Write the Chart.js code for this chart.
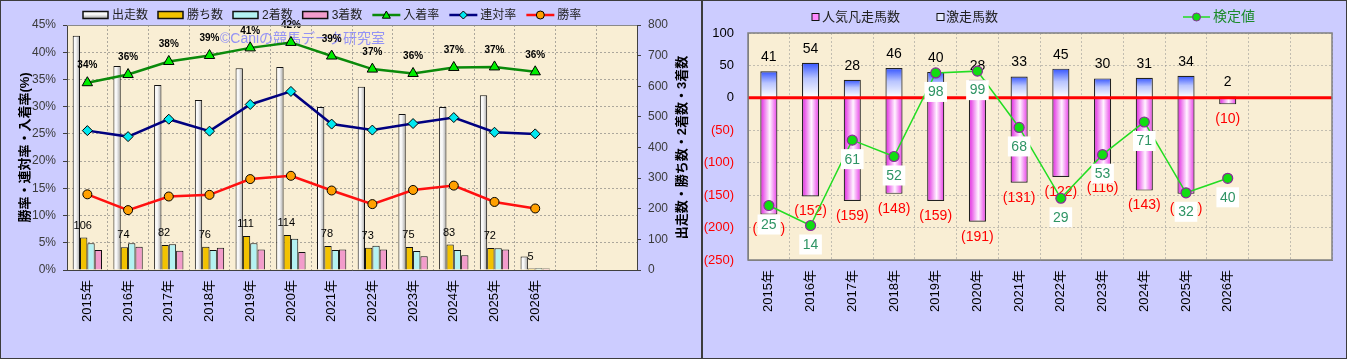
<!DOCTYPE html>
<html>
<head>
<meta charset="utf-8">
<script src="https://cdn.jsdelivr.net/npm/chart.js@4.4.1/dist/chart.umd.min.js"></script>
<style>
html, body { margin: 0; padding: 0; background: #ccccff; }
#wrap { position: relative; width: 1347px; height: 359px; background: #ccccff; }
.panel { position: absolute; top: 0; height: 357px; border: 1px solid #3c3c3c; background: #ccccff; }
#p1 { left: 0; width: 700px; }
#p2 { left: 702px; width: 643px; }
canvas { display: block; }
</style>
</head>
<body>
<div id="wrap">
  <div class="panel" id="p1"><canvas id="c1" width="700" height="357"></canvas></div>
  <div class="panel" id="p2"><canvas id="c2" width="643" height="357"></canvas></div>
</div>
<script>
"use strict";

var FONT = "'Liberation Sans','Noto Sans CJK JP',sans-serif";
Chart.defaults.font.family = FONT;
Chart.defaults.animation = false;

// ---- data (left chart) ----
var years = ['2015年', '2016年', '2017年', '2018年', '2019年', '2020年', '2021年',
             '2022年', '2023年', '2024年', '2025年', '2026年', '', ''];
var runs      = [765, 666, 604, 555, 659, 663, 532, 598, 509, 532, 571, 44];
var wins      = [106, 74, 82, 76, 111, 114, 78, 73, 75, 83, 72, 5];
var seconds   = [87, 87, 84, 65, 87, 102, 65, 79, 62, 65, 71, 6];
var thirds    = [65, 76, 63, 73, 67, 59, 67, 67, 45, 48, 67, 5];
var placeRate  = [34.4, 35.9, 38.3, 39.4, 40.8, 41.8, 39.3, 36.9, 36.1, 37.2, 37.3, 36.4];
var rentaiRate = [25.6, 24.5, 27.7, 25.5, 30.4, 32.8, 26.8, 25.7, 26.9, 28.0, 25.3, 25.0];
var winRate    = [13.9, 11.0, 13.5, 13.8, 16.7, 17.3, 14.6, 12.1, 14.7, 15.5, 12.5, 11.3];

// ---- data (right chart) ----
var hitCounts  = [41, 54, 28, 46, 40, 28, 33, 45, 30, 31, 34, 2];
var flopCounts = [-180, -152, -159, -148, -159, -191, -131, -122, -116, -143, -148, -10];
var testValues = [25, 14, 61, 52, 98, 99, 68, 29, 53, 71, 32, 40];

function makeGrad(c, x0, y0, x1, y1, stops) {
    var g = c.createLinearGradient(x0, y0, x1, y1);
    stops.forEach(function(s) { g.addColorStop(s[0], s[1]); });
    return g;
}

// gives bars their shaded fill once the elements are laid out
function shadeBars(chart) {
    var c = chart.ctx;
    chart.data.datasets.forEach(function(ds, i) {
        if (!ds.shade) return;
        chart.getDatasetMeta(i).data.forEach(function(el) {
            var p = el.getProps(['x', 'y', 'base', 'width'], true);
            var g;
            if (ds.shade.dir === 'h') {
                g = makeGrad(c, p.x - p.width / 2, 0, p.x + p.width / 2, 0, ds.shade.stops);
            } else {
                g = makeGrad(c, 0, Math.min(p.y, p.base), 0, Math.max(p.y, p.base) + 0.01, ds.shade.stops);
            }
            el.options = Object.assign({}, el.options, { backgroundColor: g });
        });
    });
}

function marker(c, style, x, y, r, fill, stroke) {
    c.beginPath();
    if (style === 'triangle') {
        c.moveTo(x, y - r); c.lineTo(x + r, y + r * 0.8); c.lineTo(x - r, y + r * 0.8); c.closePath();
    } else if (style === 'rectRot') {
        c.moveTo(x, y - r); c.lineTo(x + r, y); c.lineTo(x, y + r); c.lineTo(x - r, y); c.closePath();
    } else {
        c.arc(x, y, r, 0, Math.PI * 2);
    }
    c.fillStyle = fill; c.fill();
    c.strokeStyle = stroke; c.lineWidth = 1; c.stroke();
}

function vTitle(c, text, x, y) {
    c.save();
    c.translate(x, y);
    c.rotate(-Math.PI / 2);
    c.font = 'bold 13px ' + FONT;
    c.fillStyle = '#000';
    c.textAlign = 'center';
    c.textBaseline = 'middle';
    c.fillText(text, 0, 0);
    c.restore();
}

var gridColor = 'rgba(110,110,110,0.55)';

// ================= left chart =================
var leftDeco = {
    id: 'leftDeco',
    beforeDraw: function(chart) {
        var a = chart.chartArea, c = chart.ctx;
        c.save();
        c.fillStyle = '#f9eed4';
        c.fillRect(a.left, a.top, a.right - a.left, a.bottom - a.top);
        c.restore();
    },
    beforeDatasetsDraw: function(chart) {
        var c = chart.ctx;
        c.save();
        c.font = '14px ' + FONT;
        c.fillStyle = 'rgba(130,130,250,0.85)';
        c.textBaseline = 'middle';
        c.fillText('©Caniの競馬データ研究室', 219, 38);
        c.restore();
        shadeBars(chart);
    },
    afterDatasetsDraw: function(chart) {
        var c = chart.ctx;
        c.save();
        c.textAlign = 'center';
        c.textBaseline = 'middle';
        c.fillStyle = '#000';
        c.font = '11px ' + FONT;
        chart.getDatasetMeta(1).data.forEach(function(el, i) {
            c.fillText(String(wins[i]), el.x - 1, el.y - 12);
        });
        c.font = 'bold 10px ' + FONT;
        chart.getDatasetMeta(4).data.forEach(function(el, i) {
            c.fillText(Math.round(placeRate[i]) + '%', el.x, el.y - 17);
        });
        c.restore();
    },
    afterDraw: function(chart) {
        var a = chart.chartArea, c = chart.ctx;
        c.save();
        c.strokeStyle = '#8a8a8a';
        c.lineWidth = 1;
        c.beginPath(); c.moveTo(a.left, a.top + 0.5); c.lineTo(a.right, a.top + 0.5); c.stroke();
        c.restore();
        vTitle(c, '勝率・連対率・入着率(%)', 24, (a.top + a.bottom) / 2);
        vTitle(c, '出走数・勝ち数・2着数・3着数', 681, (a.top + a.bottom) / 2);

        // legend
        var x = 82, y = 14;
        c.save();
        c.font = '12px ' + FONT;
        c.textBaseline = 'middle';
        c.textAlign = 'left';
        chart.data.datasets.forEach(function(ds) {
            if (ds.type === 'line') {
                c.strokeStyle = ds.borderColor; c.lineWidth = 2.5;
                c.beginPath(); c.moveTo(x, y); c.lineTo(x + 28, y); c.stroke();
                marker(c, ds.pointStyle, x + 14, y, 4, ds.pointBackgroundColor, '#000');
                x += 31;
            } else {
                c.fillStyle = ds.shade ? makeGrad(c, 0, y - 3.5, 0, y + 3.5, ds.shade.stops) : ds.backgroundColor;
                c.fillRect(x, y - 3.5, 25, 7);
                c.strokeStyle = '#111'; c.lineWidth = 1.5;
                c.strokeRect(x, y - 3.5, 25, 7);
                x += 29;
            }
            c.fillStyle = '#222';
            c.fillText(ds.label, x, y + 0.5);
            x += c.measureText(ds.label).width + 10;
        });
        c.restore();
    }
};

new Chart(document.getElementById('c1'), {
    type: 'bar',
    data: {
        labels: years,
        datasets: [
            { label: '出走数', data: runs, yAxisID: 'y1', order: 2, backgroundColor: '#e8e8e8',
              shade: { dir: 'h', stops: [[0, '#ffffff'], [0.45, '#f6f6f6'], [1, '#a4a4a4']] } },
            { label: '勝ち数', data: wins, yAxisID: 'y1', order: 2, backgroundColor: '#f2c200' },
            { label: '2着数', data: seconds, yAxisID: 'y1', order: 2, backgroundColor: '#b4f2f2' },
            { label: '3着数', data: thirds, yAxisID: 'y1', order: 2, backgroundColor: '#f29ccb' },
            { type: 'line', label: '入着率', data: placeRate, yAxisID: 'y', order: 1,
              borderColor: '#0a8a0a', borderWidth: 2.5, pointStyle: 'triangle', pointRadius: 6,
              pointBackgroundColor: '#00ee00', pointBorderColor: '#000', pointBorderWidth: 1 },
            { type: 'line', label: '連対率', data: rentaiRate, yAxisID: 'y', order: 1,
              borderColor: '#000080', borderWidth: 2.5, pointStyle: 'rectRot', pointRadius: 5,
              pointBackgroundColor: '#00e8f0', pointBorderColor: '#000', pointBorderWidth: 1 },
            { type: 'line', label: '勝率', data: winRate, yAxisID: 'y', order: 1,
              borderColor: '#ff1010', borderWidth: 2.5, pointStyle: 'circle', pointRadius: 4.5,
              pointBackgroundColor: '#ffa000', pointBorderColor: '#000', pointBorderWidth: 1 }
        ]
    },
    options: {
        responsive: false,
        layout: { padding: { top: 24, left: 0, right: 0, bottom: 0 } },
        datasets: { bar: { categoryPercentage: 0.72, barPercentage: 1, borderWidth: 1, borderColor: '#111' } },
        plugins: { legend: { display: false }, tooltip: { enabled: false } },
        scales: {
            x: {
                grid: { color: gridColor, offset: true, drawTicks: false },
                border: { color: '#404040', dash: [2, 2] },
                ticks: { color: '#000', font: { size: 13 }, minRotation: 90, maxRotation: 90,
                         autoSkip: false, padding: 10 },
                afterFit: function(s) { s.height = 88; }
            },
            y: {
                position: 'left', min: 0, max: 45,
                grid: { color: gridColor, tickLength: 4, tickColor: '#404040' },
                border: { color: '#404040', dash: [2, 2] },
                ticks: { stepSize: 5, color: '#3a3a3a', font: { size: 12 }, padding: 7,
                         callback: function(v) { return v + '%'; } },
                afterFit: function(s) { s.width = 66; }
            },
            y1: {
                position: 'right', min: 0, max: 800,
                grid: { drawOnChartArea: false, tickLength: 4, tickColor: '#404040' },
                border: { color: '#404040' },
                ticks: { stepSize: 100, color: '#3a3a3a', font: { size: 12 }, padding: 7 },
                afterFit: function(s) { s.width = 64; }
            }
        }
    },
    plugins: [leftDeco]
});

// ================= right chart =================
var rightDeco = {
    id: 'rightDeco',
    beforeDraw: function(chart) {
        var a = chart.chartArea, c = chart.ctx;
        c.save();
        c.fillStyle = '#f9eed4';
        c.fillRect(a.left, a.top, a.right - a.left, a.bottom - a.top);
        c.restore();
    },
    beforeDatasetsDraw: function(chart) { shadeBars(chart); },
    beforeDatasetDraw: function(chart, args) {
        if (args.meta.type !== 'line') return;
        var a = chart.chartArea, c = chart.ctx;
        var y0 = chart.scales.y.getPixelForValue(0);
        c.save();
        // bar value labels
        c.textAlign = 'center';
        c.textBaseline = 'middle';
        c.font = '14px ' + FONT;
        chart.getDatasetMeta(2).data.forEach(function(el, i) {
            c.fillStyle = '#000';
            c.fillText(String(hitCounts[i]), el.x, el.y - 14);
        });
        chart.getDatasetMeta(1).data.forEach(function(el, i) {
            c.fillStyle = '#ff0000';
            c.fillText('(' + (-flopCounts[i]) + ')', el.x, el.y + 15);
        });
        // zero line
        c.strokeStyle = '#ff0000';
        c.lineWidth = 3;
        c.beginPath(); c.moveTo(a.left, y0); c.lineTo(a.right, y0); c.stroke();
        c.restore();
    },
    afterDatasetsDraw: function(chart) {
        var c = chart.ctx;
        c.save();
        c.font = '14px ' + FONT;
        c.textAlign = 'center';
        c.textBaseline = 'middle';
        chart.getDatasetMeta(0).data.forEach(function(el, i) {
            var t = String(testValues[i]);
            var w = c.measureText(t).width + 7;
            var ly = el.y + 19;
            c.fillStyle = '#ffffff';
            c.fillRect(el.x - w / 2, ly - 10, w, 20);
            c.fillStyle = '#2e9464';
            c.fillText(t, el.x, ly + 0.5);
        });
        c.restore();
    },
    afterDraw: function(chart) {
        var a = chart.chartArea, c = chart.ctx;
        c.save();
        c.strokeStyle = '#808080';
        c.lineWidth = 1.5;
        c.strokeRect(a.left, a.top, a.right - a.left, a.bottom - a.top);

        // legend
        var y = 16;
        c.font = '13px ' + FONT;
        c.textBaseline = 'middle';
        c.textAlign = 'left';
        c.lineWidth = 1;
        c.fillStyle = '#ff88ff'; c.fillRect(109, y - 3.5, 7, 7);
        c.strokeStyle = '#111'; c.strokeRect(109, y - 3.5, 7, 7);
        c.fillStyle = '#222'; c.fillText(chart.data.datasets[1].label, 119, y + 0.5);
        c.fillStyle = '#e8ecff'; c.fillRect(234, y - 3.5, 7, 7);
        c.strokeRect(234, y - 3.5, 7, 7);
        c.fillStyle = '#222'; c.fillText(chart.data.datasets[2].label, 243, y + 0.5);
        c.strokeStyle = '#22dd22'; c.lineWidth = 1.5;
        c.beginPath(); c.moveTo(480, y); c.lineTo(507, y); c.stroke();
        marker(c, 'circle', 493.5, y, 4, '#11dd11', '#8a2a9a');
        c.font = '14px ' + FONT;
        c.fillStyle = '#1a8a2a';
        c.fillText(chart.data.datasets[0].label, 510, y + 0.5);
        c.restore();
    }
};

new Chart(document.getElementById('c2'), {
    type: 'bar',
    data: {
        labels: years,
        datasets: [
            { type: 'line', label: '検定値', data: testValues, yAxisID: 'y2', order: 0,
              borderColor: '#22dd22', borderWidth: 1.5, pointRadius: 5,
              pointBackgroundColor: '#11dd11', pointBorderColor: '#8a2a9a', pointBorderWidth: 1.2 },
            { label: '人気凡走馬数', data: flopCounts, yAxisID: 'y', stack: 'a', order: 1,
              backgroundColor: '#f060f0',
              shade: { dir: 'h', stops: [[0, '#e020e0'], [0.55, '#fff4ff'], [1, '#e838e8']] } },
            { label: '激走馬数', data: hitCounts, yAxisID: 'y', stack: 'a', order: 1,
              backgroundColor: '#8090ff',
              shade: { dir: 'v', stops: [[0, '#3454ff'], [0.45, '#b8c4ff'], [1, '#ffffff']] } }
        ]
    },
    options: {
        responsive: false,
        layout: { padding: { top: 32, left: 0, right: 14, bottom: 0 } },
        datasets: { bar: { categoryPercentage: 1, barPercentage: 0.41, borderWidth: 1.2, borderColor: '#222' } },
        plugins: { legend: { display: false }, tooltip: { enabled: false } },
        scales: {
            x: {
                stacked: true,
                grid: { color: 'rgba(140,140,140,0.5)', offset: true, drawTicks: false },
                border: { color: '#808080', dash: [2, 2] },
                ticks: { color: '#000', font: { size: 13 }, minRotation: 90, maxRotation: 90,
                         autoSkip: false, padding: 10 },
                afterFit: function(s) { s.height = 98; }
            },
            y: {
                stacked: true, min: -250, max: 100,
                grid: { color: 'rgba(140,140,140,0.5)', drawTicks: false },
                border: { color: '#808080', dash: [2, 2] },
                ticks: { stepSize: 50, font: { size: 13 }, padding: 14,
                         color: function(ctx) { return ctx.tick && ctx.tick.value < 0 ? '#ff0000' : '#000'; },
                         callback: function(v) { return v < 0 ? '(' + (-v) + ')' : String(v); } },
                afterFit: function(s) { s.width = 45; }
            },
            y2: { display: false, min: -5, max: 120 }
        }
    },
    plugins: [rightDeco]
});
</script>
</body>
</html>
